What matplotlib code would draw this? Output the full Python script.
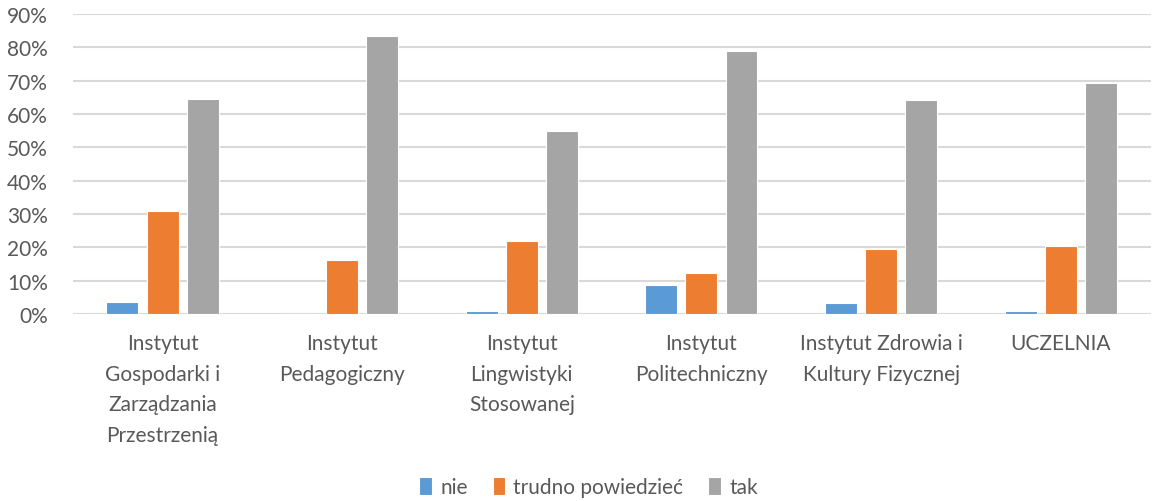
import numpy as np
import matplotlib.pyplot as plt
from matplotlib.ticker import PercentFormatter

# Data (fractions)
categories = [
    "Instytut\nGospodarki i\nZarządzania\nPrzestrzenią",
    "Instytut\nPedagogiczny",
    "Instytut\nLingwistyki\nStosowanej",
    "Instytut\nPolitechniczny",
    "Instytut Zdrowia i\nKultury Fizycznej",
    "UCZELNIA",
]
nie = [0.037, 0.0, 0.010, 0.088, 0.034, 0.010]
trudno = [0.310, 0.161, 0.218, 0.122, 0.196, 0.203]
tak = [0.645, 0.833, 0.549, 0.788, 0.642, 0.692]

series_names = ["nie", "trudno powiedzieć", "tak"]
colors = ["#5B9BD5", "#ED7D31", "#A5A5A5"]
text_color = "#595959"

plt.rcParams['font.family'] = ['Lato', 'DejaVu Sans']

fig = plt.figure(figsize=(11.54, 5.02), dpi=100)
ax = fig.add_axes([0.063, 0.3725, 0.934, 0.5975])

x = np.arange(len(categories))
width = 0.178
step = 0.223
for i, (vals, name, col) in enumerate(zip([nie, trudno, tak], series_names, colors)):
    ax.bar(x + (i - 1) * step, vals, width, color=col, label=name,
           edgecolor="white", linewidth=0.8, zorder=3)

ax.set_xlim(-0.5, len(categories) - 0.5)
ax.set_ylim(0, 0.9)
ax.set_yticks(np.arange(0, 0.91, 0.1))
ax.yaxis.set_major_formatter(PercentFormatter(1.0, decimals=0))
ax.grid(axis="y", color="#D9D9D9", linewidth=1.5, zorder=0)
ax.set_axisbelow(True)
for s in ax.spines.values():
    s.set_visible(False)

ax.set_xticks(x)
ax.set_xticklabels(categories, linespacing=1.65)
ax.tick_params(axis="x", length=0, pad=14, labelsize=15, labelcolor=text_color)
ax.tick_params(axis="y", length=0, pad=18, labelsize=15, labelcolor=text_color)
for lbl in ax.get_xticklabels():
    lbl.set_verticalalignment("top")

fig.legend(loc="center", bbox_to_anchor=(0.51, 0.028), ncol=3, frameon=False,
           fontsize=15, labelcolor=text_color, handlelength=0.6,
           handleheight=1.0, handletextpad=0.4, columnspacing=1.2)

fig.savefig("out.png", dpi=100)
